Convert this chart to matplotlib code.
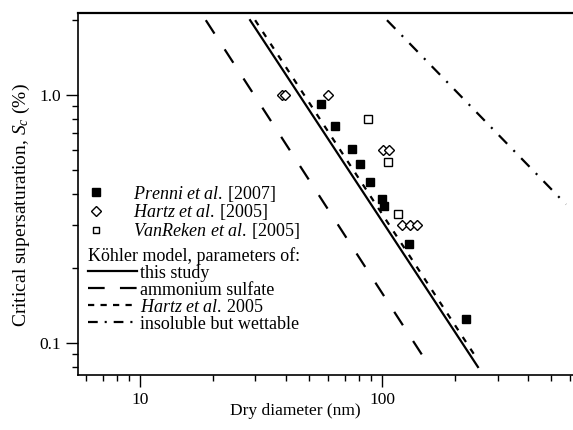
import matplotlib
matplotlib.use("Agg")
import matplotlib.pyplot as plt
from matplotlib import ticker
from matplotlib.lines import Line2D

plt.rcParams['font.family'] = ['Liberation Serif', 'DejaVu Serif']
plt.rcParams['font.size'] = 12
plt.rcParams['mathtext.fontset'] = 'custom'
plt.rcParams['mathtext.rm'] = 'Liberation Serif'
plt.rcParams['mathtext.it'] = 'Liberation Serif:italic'
plt.rcParams['lines.scale_dashes'] = False

# ===== Data =====
prenni_d = [55.8, 64.0, 75.0, 80.9, 89.2, 99.7, 101.9, 129.6, 222]
prenni_sc = [0.917, 0.750, 0.604, 0.527, 0.446, 0.381, 0.355, 0.250, 0.125]

hartz_d = [38.5, 39.7, 59.7, 100.6, 107.2, 120.6, 130.5, 139.1]
hartz_sc = [1.0, 1.0, 1.0, 0.60, 0.60, 0.30, 0.30, 0.30]

vanreken_d = [87.8, 106.2, 116.7]
vanreken_sc = [0.80, 0.538, 0.330]

# model lines: straight in log-log, given by their end points
this_study_d = [28.5, 249]
this_study_sc = [2.0, 0.080]
amsulf_d = [18.7, 152.6]
amsulf_sc = [2.0, 0.084]
hartz_model_d = [29.9, 247]
hartz_model_sc = [2.0, 0.0862]
insoluble_d = [104.8, 575.6]
insoluble_sc = [2.0, 0.362]

# ===== Figure =====
fig = plt.figure(figsize=(5.73, 4.30), dpi=100)
ax = fig.add_axes([0.136, 0.128, 0.864, 0.842])

ax.plot(this_study_d, this_study_sc, color='k', lw=1.6, ls='-')
ax.plot(amsulf_d, amsulf_sc, color='k', lw=1.6, ls=(0, (11.5, 13.5)))
ax.plot(hartz_model_d, hartz_model_sc, color='k', lw=1.6, ls=(0, (4.3, 5.8)))
ax.plot(insoluble_d, insoluble_sc, color='k', lw=1.6, ls=(0, (8.6, 6.5, 1.5, 6.5)))

ax.plot(prenni_d, prenni_sc, 's', color='k', ms=6.0, mec='k', ls='none')
ax.plot(hartz_d, hartz_sc, 'D', mfc='white', mec='k', mew=1.0, ms=5.3, ls='none')
ax.plot(vanreken_d, vanreken_sc, 's', mfc='white', mec='k', mew=1.0, ms=5.8, ls='none')

ax.set_xscale('log')
ax.set_yscale('log')
ax.set_xlim(5.54, 615)
ax.set_ylim(0.0743, 2.14)

ax.xaxis.set_major_locator(ticker.FixedLocator([10, 100]))
ax.xaxis.set_major_formatter(ticker.FixedFormatter(['10', '100']))
ax.xaxis.set_minor_locator(ticker.LogLocator(base=10, subs=range(2, 10)))
ax.xaxis.set_minor_formatter(ticker.NullFormatter())
ax.yaxis.set_major_locator(ticker.FixedLocator([0.1, 1.0]))
ax.yaxis.set_major_formatter(ticker.FixedFormatter(['0.1', '1.0']))
ax.yaxis.set_minor_locator(ticker.LogLocator(base=10, subs=range(2, 10)))
ax.yaxis.set_minor_formatter(ticker.NullFormatter())

ax.tick_params(which='major', direction='out', length=8.5, width=1.0, labelsize=12.5)
ax.tick_params(which='minor', direction='out', length=4.3, width=1.0)
ax.spines['right'].set_visible(False)
for s in ['top', 'left', 'bottom']:
    ax.spines[s].set_linewidth(1.2)
ax.spines['top'].set_linewidth(1.6)

ax.set_xlabel('Dry diameter (nm)', fontsize=12.5)
ax.xaxis.set_label_coords(0.44, -0.078)
ax.set_ylabel(r'Critical supersaturation, $S_c$ (%)', fontsize=14)
ax.yaxis.set_label_coords(-0.092, 0.47)

# ===== Legends =====
h1 = [Line2D([], [], marker='s', color='k', ms=6, ls='none'),
      Line2D([], [], marker='D', mfc='white', mec='k', mew=1.0, ms=5, ls='none'),
      Line2D([], [], marker='s', mfc='white', mec='k', mew=1.0, ms=5, ls='none')]
l1 = [r'$\mathit{Prenni\ et\ al.}\:$[2007]',
      r'$\mathit{Hartz\ et\ al.}\:$[2005]',
      r'$\mathit{VanReken\ et\ al.}\:$[2005]']
leg1 = ax.legend(h1, l1, loc='upper left', bbox_to_anchor=(0.0075, 0.528),
                 frameon=False, borderpad=0, borderaxespad=0,
                 handlelength=1.6, handletextpad=1.25, labelspacing=-0.08,
                 fontsize=13)
ax.add_artist(leg1)

h2 = [Line2D([], [], color='k', lw=1.6, ls='-'),
      Line2D([], [], color='k', lw=1.6, ls=(0, (12, 11))),
      Line2D([], [], color='k', lw=1.6, ls=(0, (4.5, 4.5))),
      Line2D([], [], color='k', lw=1.6, ls=(0, (7, 5, 1.5, 5)))]
l2 = ['this study', 'ammonium sulfate', r'$\mathit{Hartz\ et\ al.}\:$2005',
      'insoluble but wettable']
leg2 = ax.legend(h2, l2, loc='upper left', bbox_to_anchor=(0.02, 0.354),
                 frameon=False, borderpad=0, borderaxespad=0,
                 handlelength=2.7, handletextpad=0.2, labelspacing=0.0,
                 fontsize=13, title='Köhler model, parameters of:',
                 title_fontsize=13, alignment='left')

fig.savefig('out.png', dpi=100)
